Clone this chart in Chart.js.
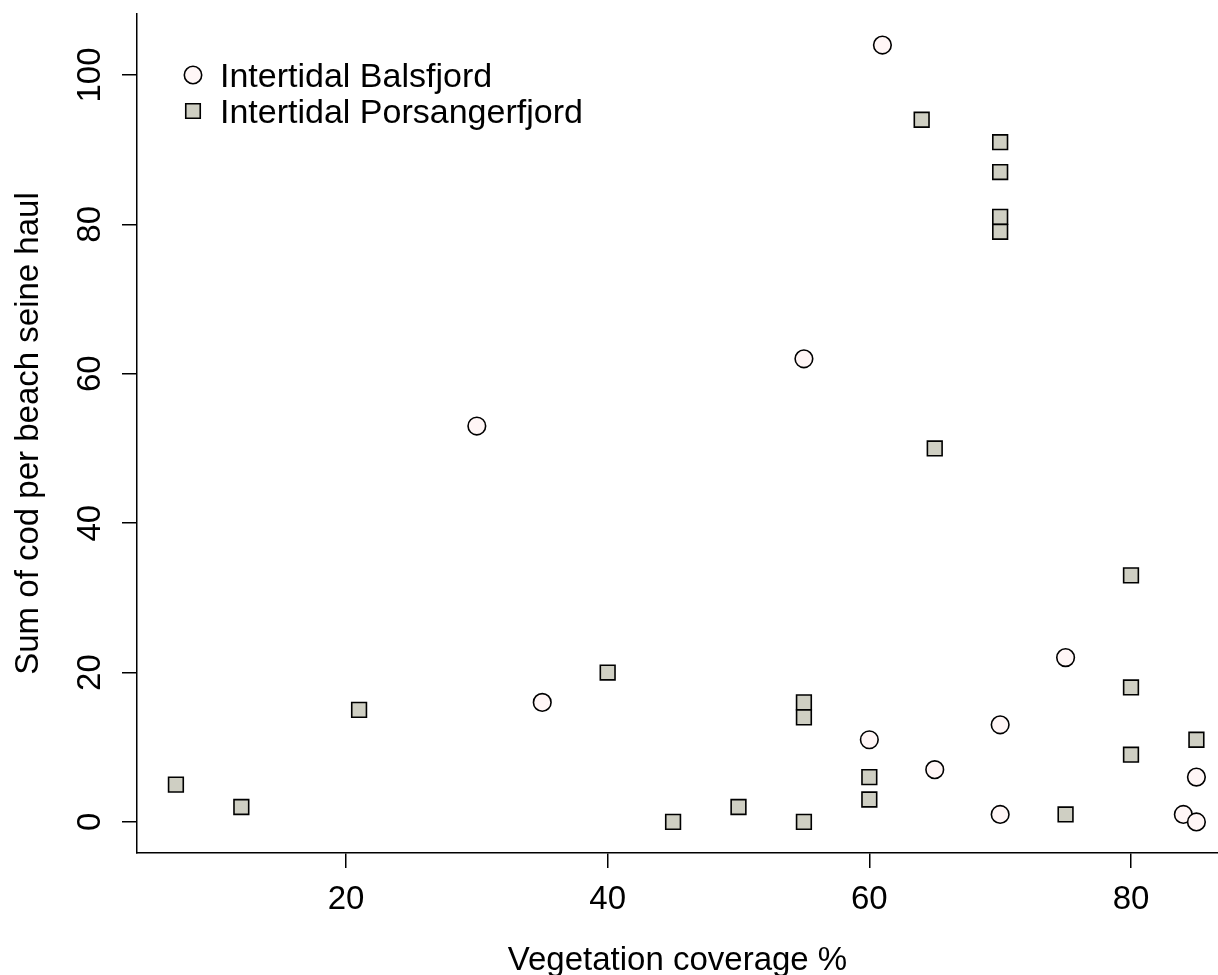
<!DOCTYPE html>
<html>
<head>
<meta charset="utf-8">
<script src="https://cdn.jsdelivr.net/npm/chart.js@4.4.1/dist/chart.umd.min.js"></script>
<style>
  html, body { margin: 0; padding: 0; background: #fff; }
</style>
</head>
<body>
<canvas id="codChart" width="1218" height="975"></canvas>
<script>
// Data ==============================================================
const balsX = [30, 35, 55, 60, 61, 65, 70, 70, 75, 84, 85, 85];
const balsY = [53, 16, 62, 11, 104, 7, 13, 1, 22, 1, 6, 0];
const porsX = [7, 12, 21, 40, 45, 50, 55, 55, 55, 60, 60, 64, 65, 70, 70, 70, 70, 75, 80, 80, 80, 85];
const porsY = [5, 2, 15, 20, 0, 2, 16, 14, 0, 6, 3, 94, 50, 91, 87, 81, 79, 1, 33, 18, 9, 11];
const xTicks = [20, 40, 60, 80];
const yTicks = [0, 20, 40, 60, 80, 100];
const seriesNames = ['Intertidal Balsfjord', 'Intertidal Porsangerfjord'];
const xTitle = 'Vegetation coverage %';
const yTitle = 'Sum of cod per beach seine haul';

const circleFill = '#fff6f6';
const squareFill = '#cfcfc3';
const axisFont = '33px "Liberation Sans", Arial, sans-serif';
const legendFont = '34px "Liberation Sans", Arial, sans-serif';

// R style texts: tick labels, axis titles, legend ====================
const rText = {
    id: 'rText',
    afterDraw(chart) {
        const { ctx, chartArea: a, scales: { x, y } } = chart;
        ctx.save();
        ctx.fillStyle = '#000';
        ctx.textAlign = 'center';
        ctx.textBaseline = 'alphabetic';
        ctx.font = axisFont;

        xTicks.forEach(v => ctx.fillText(String(v), x.getPixelForValue(v), 909));
        ctx.fillText(xTitle, (a.left + a.right) / 2, 970);

        yTicks.forEach(v => {
            ctx.save();
            ctx.translate(100, y.getPixelForValue(v));
            ctx.rotate(-Math.PI / 2);
            ctx.fillText(String(v), 0, 0);
            ctx.restore();
        });
        ctx.save();
        ctx.translate(38, (a.top + a.bottom) / 2);
        ctx.rotate(-Math.PI / 2);
        ctx.fillText(yTitle, 0, 0);
        ctx.restore();

        // legend
        ctx.lineWidth = 1.6;
        ctx.strokeStyle = '#000';
        ctx.beginPath();
        ctx.arc(193, 75, 8.7, 0, Math.PI * 2);
        ctx.fillStyle = circleFill;
        ctx.fill();
        ctx.stroke();
        ctx.beginPath();
        ctx.rect(193 - 7.25, 111 - 7.25, 14.5, 14.5);
        ctx.fillStyle = squareFill;
        ctx.fill();
        ctx.stroke();

        ctx.fillStyle = '#000';
        ctx.font = legendFont;
        ctx.textAlign = 'left';
        ctx.fillText(seriesNames[0], 220, 87);
        ctx.fillText(seriesNames[1], 220, 123);
        ctx.restore();
    }
};

const axisLook = {
    grid: { display: true, drawOnChartArea: false, drawTicks: true, tickLength: 15, color: '#000', lineWidth: 1.5 },
    border: { display: true, color: '#000', width: 1.5 },
    ticks: { display: false }
};

new Chart(document.getElementById('codChart').getContext('2d'), {
    type: 'scatter',
    data: {
        datasets: [
            {
                label: seriesNames[1],
                data: porsX.map((v, i) => ({ x: v, y: porsY[i] })),
                pointStyle: 'rect',
                pointRadius: 10.4,
                backgroundColor: squareFill,
                borderColor: '#000',
                borderWidth: 1.6
            },
            {
                label: seriesNames[0],
                data: balsX.map((v, i) => ({ x: v, y: balsY[i] })),
                pointStyle: 'circle',
                pointRadius: 8.8,
                backgroundColor: circleFill,
                borderColor: '#000',
                borderWidth: 1.6
            }
        ]
    },
    options: {
        responsive: false,
        animation: false,
        devicePixelRatio: 1,
        events: [],
        layout: { autoPadding: false, padding: { left: 122, top: 14, right: 0, bottom: 107 } },
        plugins: {
            legend: { display: false },
            tooltip: { enabled: false }
        },
        scales: {
            x: {
                type: 'linear',
                min: 4.025,
                max: 86.65,
                afterBuildTicks: s => { s.ticks = xTicks.map(v => ({ value: v })); },
                ...axisLook
            },
            y: {
                type: 'linear',
                min: -4.16,
                max: 108.16,
                afterBuildTicks: s => { s.ticks = yTicks.map(v => ({ value: v })); },
                ...axisLook
            }
        }
    },
    plugins: [rText]
});
</script>
</body>
</html>
